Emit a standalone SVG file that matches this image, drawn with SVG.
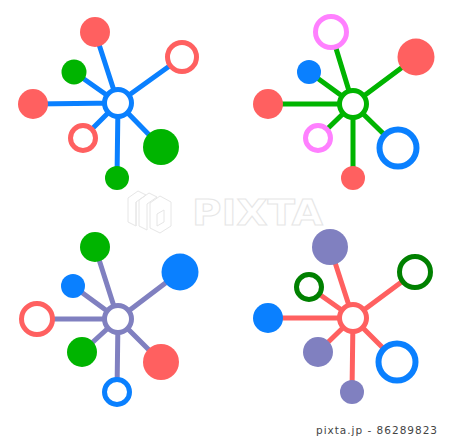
<svg xmlns="http://www.w3.org/2000/svg" width="450" height="439" viewBox="0 0 450 439">
<style>
.ln{stroke-width:5;stroke-linecap:butt;fill:none}
.hub{fill:#fff;stroke-width:5}
.ring{fill:#fff;stroke-width:5}
.ringb{fill:#fff;stroke-width:6}
.wm{fill:none;stroke:#e6e6e6;stroke-width:1;font-family:"DejaVu Sans",sans-serif;font-weight:bold}
.wmi{fill:none;stroke:#e6e6e6;stroke-width:1}
</style>
<rect width="450" height="439" fill="#fff"/>
<g id="watermark">
<path class="wmi" d="M128 198L138 191L146 195L136 202L136 226L128 222Z M136 202L136 226 M139 200L149 193L157 197L147 204L147 230L139 226Z M150 203L160 196L171 202L171 226L160 233L150 228Z M157 214L164 210L164 222L157 226Z"/>
<text class="wm" x="192" y="225" font-size="36" textLength="131" lengthAdjust="spacingAndGlyphs">PIXTA</text>
</g>
<g id="connectors">
<g stroke="#0a80ff" class="ln">
<path d="M118 103L95 32M118 103L182 57M118 103L74 72M118 103L33 104M118 103L83 138M118 103L161 147M118 103L117 178"/>
</g>
<g stroke="#00b400" class="ln">
<path d="M353 104L331 32M353 104L416 57M353 104L309 72M353 104L268 104M353 104L318 138M353 104L398 148M353 104L353 178"/>
</g>
<g stroke="#8080c0" class="ln">
<path d="M118 319L95 247M118 319L180 272M118 319L73 286M118 319L37 319M118 319L82 352M118 319L161 362M118 319L117 392"/>
</g>
<g stroke="#ff6060" class="ln">
<path d="M353 318L330 247M353 318L415 272M353 318L309 287M353 318L268 318M353 318L318 352M353 318L397 362M353 318L352 392"/>
</g>
</g>
<g id="cluster1">
<g id="c1-hub"><circle class="hub" stroke="#0a80ff" cx="118" cy="103" r="13.5"/></g>
<g id="c1-top"><circle fill="#ff6060" cx="95" cy="32" r="15"/></g>
<g id="c1-tr"><circle class="ring" stroke="#ff6060" cx="182" cy="57" r="14.5"/></g>
<g id="c1-ul"><circle fill="#00b400" cx="74" cy="72" r="12.5"/></g>
<g id="c1-l"><circle fill="#ff6060" cx="33" cy="104" r="15"/></g>
<g id="c1-ll"><circle class="ring" stroke="#ff6060" cx="83" cy="138" r="12.5"/></g>
<g id="c1-lr"><circle fill="#00b400" cx="161" cy="147" r="18"/></g>
<g id="c1-b"><circle fill="#00b400" cx="117" cy="178" r="12"/></g>
</g>
<g id="cluster2">
<g id="c2-hub"><circle class="hub" stroke="#00b400" cx="353" cy="104" r="13.5"/></g>
<g id="c2-top"><circle class="ring" stroke="#ff80ff" cx="331" cy="32" r="15.5"/></g>
<g id="c2-tr"><circle fill="#ff6060" cx="416" cy="57" r="18.5"/></g>
<g id="c2-ul"><circle fill="#0a80ff" cx="309" cy="72" r="12"/></g>
<g id="c2-l"><circle fill="#ff6060" cx="268" cy="104" r="15"/></g>
<g id="c2-ll"><circle class="ring" stroke="#ff80ff" cx="318" cy="138" r="12.5"/></g>
<g id="c2-lr"><circle class="ringb" stroke="#0a80ff" cx="398" cy="148" r="18.5"/></g>
<g id="c2-b"><circle fill="#ff6060" cx="353" cy="178" r="12"/></g>
</g>
<g id="cluster3">
<g id="c3-hub"><circle class="hub" stroke="#8080c0" cx="118" cy="319" r="13.5"/></g>
<g id="c3-top"><circle fill="#00b400" cx="95" cy="247" r="15"/></g>
<g id="c3-tr"><circle fill="#0a80ff" cx="180" cy="272" r="18.5"/></g>
<g id="c3-ul"><circle fill="#0a80ff" cx="73" cy="286" r="12"/></g>
<g id="c3-l"><circle class="ring" stroke="#ff6060" cx="37" cy="319" r="15.5"/></g>
<g id="c3-ll"><circle fill="#00b400" cx="82" cy="352" r="15"/></g>
<g id="c3-lr"><circle fill="#ff6060" cx="161" cy="362" r="18"/></g>
<g id="c3-b"><circle class="ring" stroke="#0a80ff" cx="117" cy="392" r="12.5"/></g>
</g>
<g id="cluster4">
<g id="c4-hub"><circle class="hub" stroke="#ff6060" cx="353" cy="318" r="13.5"/></g>
<g id="c4-top"><circle fill="#8080c0" cx="330" cy="247" r="18"/></g>
<g id="c4-tr"><circle class="ring" stroke="#008000" cx="415" cy="272" r="15.5"/></g>
<g id="c4-ul"><circle class="ring" stroke="#008000" cx="309" cy="287" r="12.5"/></g>
<g id="c4-l"><circle fill="#0a80ff" cx="268" cy="318" r="15"/></g>
<g id="c4-ll"><circle fill="#8080c0" cx="318" cy="352" r="15"/></g>
<g id="c4-lr"><circle class="ringb" stroke="#0a80ff" cx="397" cy="362" r="18.5"/></g>
<g id="c4-b"><circle fill="#8080c0" cx="352" cy="392" r="12"/></g>
</g>
<text x="316" y="434" font-family="'DejaVu Sans',sans-serif" font-size="10.5" fill="#444" textLength="121" lengthAdjust="spacing">pixta.jp - 86289823</text>
</svg>
